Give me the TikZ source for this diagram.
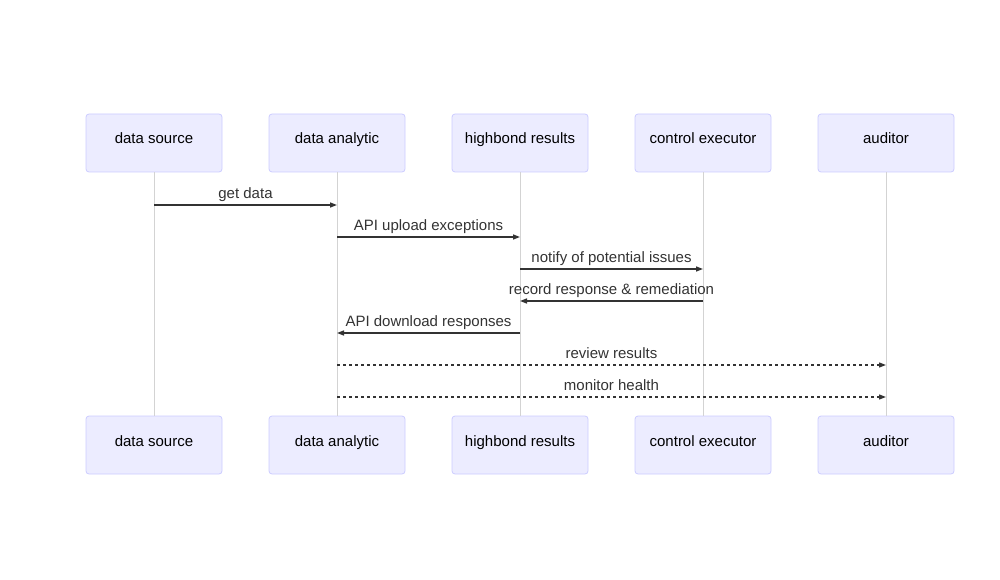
\documentclass[tikz,border=0pt]{standalone}
\usepackage{fontspec}
\setmainfont{Liberation Sans}
\usetikzlibrary{arrows.meta}
\definecolor{actfill}{HTML}{ECECFF}
\definecolor{actdraw}{HTML}{CCCCFF}
\definecolor{lifeln}{HTML}{D3D3D3}
\definecolor{msgcol}{HTML}{333333}
\begin{document}
\begin{tikzpicture}[x=1pt,y=-1pt,
  actor/.style={draw=actdraw,fill=actfill,rounded corners=3pt,line width=0.8pt,minimum width=136pt,minimum height=58pt,inner sep=0pt,text height=8pt,text depth=6pt,font=\fontsize{15}{18}\selectfont,text=black},
  life/.style={draw=lifeln,line width=1pt},
  msg/.style={draw=msgcol,line width=1.4pt,-{Triangle[length=7pt,width=5pt]}},
  dmsg/.style={msg,dash pattern=on 3pt off 3pt,line width=1.2pt},
  lbl/.style={font=\fontsize{15}{18}\selectfont,text=msgcol,inner sep=0pt,anchor=base,yshift=7pt}]
\useasboundingbox (0,0) rectangle (1000,580);
\foreach \n/\x/\t in {ds/154/data source,da/337/data analytic,hr/520/highbond results,ce/703/control executor,au/886/auditor}{
  \node[actor] (\n t) at (\x,143) {\t};
  \node[actor] (\n b) at (\x,445) {\t};
  \draw[life] (\n t.south) -- (\n b.north);
}
% message endpoints
\foreach \n/\x in {ds/154,da/337,hr/520,ce/703,au/886}{
  \foreach \k/\y in {1/205,2/237,3/269,4/301,5/333,6/365,7/397}{
    \coordinate (\n\k) at (\x,\y);
  }
}
\draw[msg] (ds1) -- node[lbl] {get data} (da1);
\draw[msg] (da2) -- node[lbl] {API upload exceptions} (hr2);
\draw[msg] (hr3) -- node[lbl] {notify of potential issues} (ce3);
\draw[msg] (ce4) -- node[lbl] {record response \& remediation} (hr4);
\draw[msg] (hr5) -- node[lbl] {API download responses} (da5);
\draw[dmsg] (da6) -- node[lbl] {review results} (au6);
\draw[dmsg] (da7) -- node[lbl] {monitor health} (au7);
\end{tikzpicture}
\end{document}
